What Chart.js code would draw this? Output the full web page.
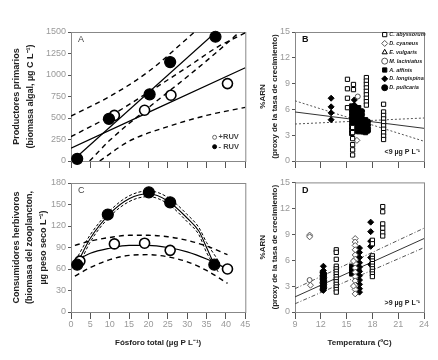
<!DOCTYPE html>
<html>
<head>
<meta charset="utf-8">
<script src="https://cdn.jsdelivr.net/npm/chart.js@4.4.0/dist/chart.umd.min.js"></script>
<style>
  body { margin: 0; background: #fff; width: 438px; height: 360px; position: relative; overflow: hidden; }
  canvas { position: absolute; }
</style>
</head>
<body>
<canvas id="cA" width="252" height="180" style="left:0;top:0"></canvas>
<canvas id="cB" width="188" height="180" style="left:250px;top:0"></canvas>
<canvas id="cC" width="252" height="185" style="left:0;top:175px"></canvas>
<canvas id="cD" width="188" height="185" style="left:250px;top:175px"></canvas>
<script>
// ---- Panel A: algal biomass vs total phosphorus ----
const aTP_menos = [1.6, 9.8, 20.3, 25.6, 37.3];
const aBio_menos = [25, 490, 775, 1150, 1445];
const aTP_mas = [11.2, 19.0, 25.8, 40.4];
const aBio_mas = [530, 590, 765, 900];
const aFitMenos = [[0.8, 20], [37.4, 1500]];
const aFitMas = [[0, 150], [45, 1085]];
const aBandMenosUp = [[0, 523], [10, 750], [20, 1040], [31.9, 1500]];
const aBandMenosLo = [[4.8, 0], [10, 240], [20, 620], [30, 980], [38, 1280], [43.5, 1500]];
const aBandMasUp = [[0, 283], [10, 520], [20, 800], [30, 1090], [38, 1330], [45, 1490]];
const aBandMasLo = [[7.4, 0], [15, 230], [25, 400], [35, 530], [45, 624]];

// ---- Panel C: zooplankton biomass vs total phosphorus ----
const cTP_menos = [1.6, 9.5, 20.1, 25.6, 37.0];
const cBio_menos = [66, 136, 167, 153, 66];
const cTP_mas = [2.3, 11.2, 19.0, 25.6, 40.4];
const cBio_mas = [71, 95, 96, 86, 60];
const cFitMenos = [[1.8, 70], [5, 103], [10, 137], [15, 158], [20, 165], [25, 155], [30, 131], [33, 113], [35, 90], [37, 66]];
const cBandMenosUp = [[1.8, 78], [5, 108], [10, 141], [15, 162], [20, 169], [25, 160], [30, 136], [33, 118], [35, 97], [38, 72]];
const cBandMenosLo = [[1.8, 62], [5, 98], [10, 133], [15, 154], [20, 161], [25, 151], [30, 126], [33, 108], [35, 83], [38, 56]];
const cFitMas = [[1.5, 72], [5, 82], [10, 89], [15, 93], [20, 93], [25, 90], [30, 84], [35, 74], [40, 61]];
const cBandMasUp = [[1, 93], [5, 99], [10, 104], [15, 107], [20, 107], [25, 105], [30, 100], [35, 92], [40.4, 80]];
const cBandMasLo = [[1, 50], [5, 62], [10, 73], [15, 79], [20, 80], [25, 77], [30, 70], [35, 58], [40.4, 40]];

// ---- Panel B: %RNA vs temperature, <9 ug P/L ----
const bAbyssorum = [[15.1, 9.5], [15.1, 8.4], [15.1, 7.3], [15.1, 6.2], [15.8, 8.9], [15.8, 8.3],
  [15.7, 3.9], [15.7, 3.3], [15.7, 2.6], [15.7, 1.9], [15.7, 1.3], [15.7, 0.7],
  [17.3, 9.7], [17.3, 9.3], [17.3, 8.9], [17.3, 8.5], [17.3, 8.1], [17.3, 7.7], [17.3, 7.3], [17.3, 6.9], [17.3, 6.5],
  [19.3, 6.6], [19.3, 5.7], [19.3, 5.3], [19.3, 4.9], [19.3, 4.5], [19.3, 4.1], [19.3, 3.7], [19.3, 3.3], [19.3, 2.9], [19.3, 2.5]];
const bCyaneus = [[16.2, 2.4]];
const bVulgaris = [];
const bLaciniatus = [[16.3, 7.5]];
const bAffinis = [[15.6, 6.4], [15.6, 6.0], [15.6, 5.6], [15.6, 5.2], [15.6, 4.8], [15.6, 4.4], [15.6, 4.0], [15.6, 3.6], [15.6, 3.2],
  [16.4, 6.2], [16.4, 5.8], [16.4, 5.4], [16.4, 5.0], [16.4, 4.6], [16.4, 4.2], [16.4, 3.8], [16.4, 3.4],
  [17.2, 4.8], [17.2, 4.4], [17.2, 4.0], [17.2, 3.6], [17.2, 3.3]];
const bLongispina = [[13.2, 7.3], [13.2, 6.3], [13.2, 5.6], [13.2, 4.8], [15.9, 7.1], [15.9, 6.5]];
const bPulicaria = [[16.0, 6.3], [16.0, 5.9], [16.0, 5.5], [16.0, 5.1], [16.0, 4.7], [16.0, 4.3], [16.0, 3.9], [16.0, 3.5],
  [16.8, 5.8], [16.8, 5.4], [16.8, 5.0], [16.8, 4.6], [16.8, 4.2], [16.8, 3.8], [16.8, 3.4],
  [17.5, 4.6], [17.5, 4.2], [17.5, 3.8], [17.5, 3.5]];
const bFit = [[9, 5.7], [24, 3.8]];
const bBand1 = [[9, 7.0], [24, 2.3]];
const bBand2 = [[9, 4.3], [24, 5.0]];

// ---- Panel D: %RNA vs temperature, >9 ug P/L ----
const dAbyssorum = [[13.8, 7.2], [13.8, 6.9], [13.8, 6.1], [13.8, 5.3], [13.8, 5.0], [13.8, 4.7], [13.8, 4.4], [13.8, 4.1],
  [13.8, 3.8], [13.8, 3.5], [13.8, 3.2], [13.8, 2.9], [13.8, 2.6], [13.8, 2.3],
  [18.0, 8.3], [18.0, 7.9], [18.0, 6.5], [18.0, 6.2], [18.0, 5.9], [18.0, 5.6], [18.0, 5.3], [18.0, 5.0], [18.0, 4.7], [18.0, 4.4], [18.0, 4.1],
  [19.2, 12.2], [19.2, 11.6], [19.2, 10.2], [19.2, 9.7], [19.2, 9.2], [19.2, 8.8]];
const dCyaneus = [[10.7, 8.9], [10.7, 8.7], [10.8, 3.1],
  [16.0, 8.5], [16.0, 8.1], [16.0, 7.7], [16.0, 7.2], [16.0, 6.6], [16.0, 6.1], [16.0, 5.6], [16.0, 5.1],
  [16.0, 4.6], [16.0, 4.1], [16.0, 3.6], [16.0, 3.1], [16.0, 2.6], [16.0, 2.1], [15.8, 5.9], [15.8, 3.0]];
const dLaciniatus = [[10.7, 3.7]];
const dAffinis = [[15.6, 5.3], [15.6, 5.0], [15.6, 4.7], [15.6, 4.4], [15.9, 5.1], [15.9, 4.8], [16.2, 4.5], [16.2, 5.0]];
const dLongispina = [[12.3, 5.3], [12.3, 4.8], [12.3, 4.5], [12.3, 4.2], [12.3, 3.9], [12.3, 3.6], [12.3, 3.3], [12.3, 3.0], [12.3, 2.7], [12.3, 2.5],
  [16.5, 7.4], [16.5, 6.9], [16.5, 6.3], [16.5, 5.7], [16.5, 5.2], [16.5, 4.7], [16.5, 4.2], [16.5, 3.7], [16.5, 3.2], [16.5, 2.7], [16.5, 2.3],
  [17.8, 10.4], [17.8, 9.3], [17.8, 8.2], [17.8, 7.6], [17.8, 6.3], [17.8, 5.5]];
const dPulicaria = [[12.2, 4.6], [12.2, 4.2], [12.2, 3.8], [12.2, 3.4], [12.2, 3.0], [12.2, 2.6],
  [12.4, 4.4], [12.4, 4.0], [12.4, 3.6], [12.4, 3.2], [12.4, 2.8], [16.3, 5.5], [16.4, 4.9]];
const dFit = [[9, 1.75], [24, 8.5]];
const dBand1 = [[9, 2.7], [24, 9.7]];
const dBand2 = [[9, 0.95], [24, 7.45]];

Chart.defaults.font.family = "'Liberation Sans', Arial, sans-serif";
Chart.defaults.color = '#222';

const zip = (xs, ys) => xs.map((x, i) => ({ x, y: ys[i] }));
const pts = arr => arr.map(([x, y]) => ({ x, y }));

// box around the plot area
const framePlugin = {
  id: 'frame',
  beforeDatasetsDraw(chart) {
    const { ctx, chartArea: a } = chart;
    ctx.save();
    ctx.strokeStyle = '#888';
    ctx.lineWidth = 1;
    ctx.strokeRect(a.left + 0.5, a.top + 0.5, a.width, a.height);
    ctx.restore();
  }
};

// free text inside the plot (panel letter, notes)
const notesPlugin = {
  id: 'notes',
  afterDraw(chart, args, opts) {
    const { ctx, chartArea: a } = chart;
    (opts.items || []).forEach(n => {
      ctx.save();
      ctx.font = n.font;
      ctx.fillStyle = n.color || '#222';
      ctx.textAlign = n.align || 'left';
      ctx.textBaseline = 'middle';
      const x = n.dx >= 0 ? a.left + n.dx : a.right + n.dx;
      const y = n.dy >= 0 ? a.top + n.dy : a.bottom + n.dy;
      ctx.fillText(n.text, x, y);
      ctx.restore();
    });
  }
};

// small legend drawn inside the plot, from datasets flagged with inLegend
const keyPlugin = {
  id: 'key',
  afterDraw(chart, args, opts) {
    if (!opts.dx) return;
    const { ctx, chartArea: a } = chart;
    let y = opts.dy >= 0 ? a.top + opts.dy : a.bottom + opts.dy;
    const x = a.right + opts.dx;
    chart.data.datasets.filter(d => d.inLegend).forEach(d => {
      ctx.save();
      ctx.fillStyle = d.backgroundColor;
      ctx.strokeStyle = d.borderColor;
      ctx.lineWidth = 1;
      Chart.helpers.drawPoint(ctx, { pointStyle: d.pointStyle, radius: opts.radius, rotation: 0, borderWidth: 1 }, x, y);
      ctx.font = opts.font;
      ctx.fillStyle = opts.color;
      ctx.textAlign = 'left';
      ctx.textBaseline = 'middle';
      ctx.fillText(d.label, x + opts.gap, y);
      ctx.restore();
      y += opts.step;
    });
  }
};

function points(label, data, style, filled, radius, extra) {
  return Object.assign({
    label, data,
    pointStyle: style,
    pointRadius: radius,
    pointBorderWidth: 1.2,
    backgroundColor: filled ? '#000' : '#fff',
    borderColor: '#000',
    showLine: false,
    clip: false
  }, extra || {});
}

function curve(data, dash, width, color) {
  return {
    data,
    showLine: true,
    pointRadius: 0,
    borderColor: color || '#000',
    borderWidth: width,
    borderDash: dash,
    cubicInterpolationMode: 'monotone',
    fill: false
  };
}

const tickFont = { size: 9 };
const tickColor = '#999';

function xScale(min, max, step, labels, height, title) {
  return {
    type: 'linear', min, max,
    ticks: { stepSize: step, display: labels, color: tickColor, font: tickFont, padding: 0, maxRotation: 0, callback: v => String(v) },
    grid: { drawOnChartArea: false, drawTicks: true, tickLength: 7, color: '#555' },
    border: { display: true, color: '#666' },
    title: title ? { display: true, text: title, font: { size: 8, weight: 'bold' }, color: '#222', padding: { top: 0, bottom: 12.5 } } : { display: false },
    afterFit: s => { s.height = height; }
  };
}

function yScale(min, max, step, width, title, size, lh, pad) {
  return {
    type: 'linear', min, max,
    ticks: { stepSize: step, color: tickColor, font: tickFont, padding: 2, callback: v => String(v) },
    grid: { drawOnChartArea: false, drawTicks: true, tickLength: 3, color: '#555' },
    border: { display: true, color: '#666' },
    title: { display: true, text: title, font: { size, weight: 'bold', lineHeight: lh }, color: '#222', padding: { top: pad, bottom: 0 } },
    afterFit: s => { s.width = width; }
  };
}

function makeChart(id, datasets, scales, padding, notes, key) {
  return new Chart(document.getElementById(id), {
    type: 'scatter',
    data: { datasets },
    options: {
      responsive: false,
      animation: false,
      events: [],
      layout: { padding },
      scales,
      plugins: {
        legend: { display: false },
        tooltip: { enabled: false },
        notes: { items: notes },
        key: key || {}
      }
    },
    plugins: [framePlugin, notesPlugin, keyPlugin]
  });
}

// Panel A
makeChart('cA', [
  points('- RUV', zip(aTP_menos, aBio_menos), 'circle', true, 5.5, { inLegend: false }),
  points('+RUV', zip(aTP_mas, aBio_mas), 'circle', false, 5, { pointBorderWidth: 1.6 }),
  points('+RUV', [], 'circle', false, 2, { inLegend: true, borderColor: '#666' }),
  points('- RUV', [], 'circle', true, 2, { inLegend: true }),
  curve(pts(aFitMenos), [], 1.2),
  curve(pts(aFitMas), [], 1.2),
  curve(pts(aBandMenosUp), [5, 4], 1.4),
  curve(pts(aBandMenosLo), [5, 4], 1.4),
  curve(pts(aBandMasUp), [5, 4], 1.4),
  curve(pts(aBandMasLo), [5, 4], 1.4)
], {
  x: xScale(0, 45, 5, false, 19),
  y: yScale(0, 1500, 250, 71, ['Productores primarios', '(biomasa algal, µg C L⁻¹)'], 9, 1.55, 10)
}, { top: 32, right: 4, left: 0, bottom: 0 }, [
  { text: 'A', dx: 7, dy: 8, font: '9px "Liberation Sans", Arial', color: '#444' }
], { dx: -30.7, dy: -23.7, step: 9.4, radius: 2, gap: 4, font: 'bold 7.5px "Liberation Sans", Arial', color: '#444' });

// Panel C
makeChart('cC', [
  points('- RUV', zip(cTP_menos, cBio_menos), 'circle', true, 5.5),
  points('+RUV', zip(cTP_mas, cBio_mas), 'circle', false, 5, { pointBorderWidth: 1.6 }),
  curve(pts(cFitMenos), [], 1.1),
  curve(pts(cBandMenosUp), [3, 2], 1),
  curve(pts(cBandMenosLo), [3, 2], 1),
  curve(pts(cFitMas), [], 1.2),
  curve(pts(cBandMasUp), [5, 4], 1.4),
  curve(pts(cBandMasLo), [5, 4], 1.4)
], {
  x: xScale(0, 45, 5, true, 48, 'Fósforo total (µg P L⁻¹)'),
  y: yScale(0, 180, 30, 71, ['Consumidores herbivoros', '(biomasa del zooplancton,', 'µg peso seco L⁻¹)'], 9, 1.48, 10)
}, { top: 8, right: 4, left: 0, bottom: 0 }, [
  { text: 'C', dx: 7, dy: 8, font: '9px "Liberation Sans", Arial', color: '#444' }
]);

// species datasets for B and D
function species(set) {
  return [
    points('C. abyssorum', pts(set[0]), 'rect', false, 3, { inLegend: true, pointBorderWidth: 1 }),
    points('D. cyaneus', pts(set[1]), 'rectRot', false, 3, { inLegend: true, pointBorderWidth: 1, borderColor: '#555' }),
    points('E. vulgaris', pts(set[2]), 'triangle', false, 3, { inLegend: true, pointBorderWidth: 1 }),
    points('M. laciniatus', pts(set[3]), 'circle', false, 2.5, { inLegend: true, pointBorderWidth: 1, borderColor: '#555' }),
    points('A. affinis', pts(set[4]), 'rect', true, 3, { inLegend: true, pointBorderWidth: 1 }),
    points('D. longispina', pts(set[5]), 'rectRot', true, 3, { inLegend: true, pointBorderWidth: 1 }),
    points('D. pulicaria', pts(set[6]), 'circle', true, 2.5, { inLegend: true, pointBorderWidth: 1 })
  ];
}

// Panel B
makeChart('cB', species([bAbyssorum, bCyaneus, bVulgaris, bLaciniatus, bAffinis, bLongispina, bPulicaria]).concat([
  curve(pts(bFit), [], 1, '#333'),
  curve(pts(bBand1), [2, 2], 1, '#555'),
  curve(pts(bBand2), [2, 2], 1, '#555')
]), {
  x: xScale(9, 24, 3, false, 19),
  y: yScale(0, 15, 3, 45, ['%ARN', '(proxy de la tasa de crecimiento)'], 8, 1.5, 7)
}, { top: 32, right: 14, left: 0, bottom: 0 }, [
  { text: 'B', dx: 7, dy: 8, font: 'bold 9px "Liberation Sans", Arial', color: '#111' },
  { text: '<9 µg P L⁻¹', dx: -4, dy: -9, font: 'bold 7px "Liberation Sans", Arial', color: '#222', align: 'right' }
], { dx: -39.3, dy: 2.6, step: 8.85, radius: 3, gap: 4.5, font: 'italic bold 5.5px "Liberation Sans", Arial', color: '#222' });

// Panel D
const dSets = species([dAbyssorum, dCyaneus, [], dLaciniatus, dAffinis, dLongispina, dPulicaria]);
dSets.forEach(d => { d.inLegend = false; });
makeChart('cD', dSets.concat([
  curve(pts(dFit), [], 1, '#333'),
  curve(pts(dBand1), [4, 2, 1, 2], 1, '#555'),
  curve(pts(dBand2), [4, 2, 1, 2], 1, '#555')
]), {
  x: xScale(9, 24, 3, true, 48, 'Temperatura (ºC)'),
  y: yScale(0, 15, 3, 45, ['%ARN', '(proxy de la tasa de crecimiento)'], 8, 1.5, 7)
}, { top: 7, right: 14, left: 0, bottom: 0 }, [
  { text: 'D', dx: 7, dy: 8, font: 'bold 9px "Liberation Sans", Arial', color: '#111' },
  { text: '>9 µg P L⁻¹', dx: -4, dy: -9, font: 'bold 7px "Liberation Sans", Arial', color: '#222', align: 'right' }
]);
</script>
</body>
</html>
